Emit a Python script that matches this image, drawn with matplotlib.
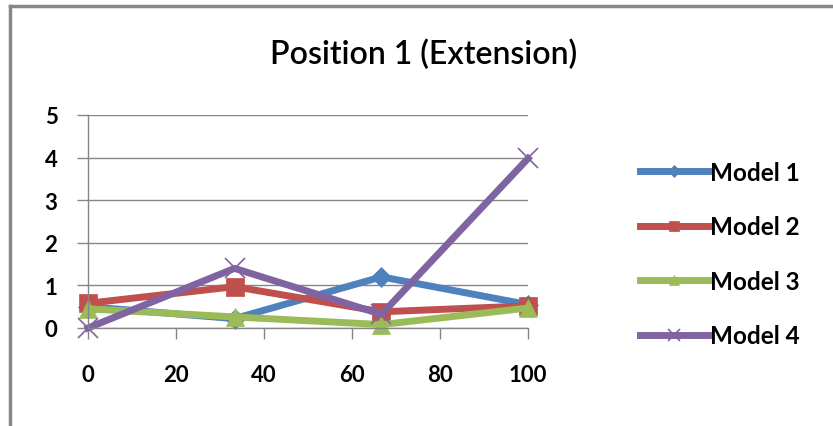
import matplotlib
matplotlib.use("Agg")
import matplotlib.pyplot as plt
from matplotlib.lines import Line2D

# positions along the extension (%)
x = [0, 33.3, 66.7, 100]

model1 = [0.5, 0.22, 1.2, 0.55]
model2 = [0.58, 0.97, 0.38, 0.52]
model3 = [0.45, 0.26, 0.08, 0.47]
model4 = [0.0, 1.4, 0.32, 3.98]

labels = ["Model 1", "Model 2", "Model 3", "Model 4"]
colors = ["#4F81BD", "#C0504D", "#9BBB59", "#8064A2"]
markers = ["D", "s", "^", "x"]
msizes = [10, 13, 13, 15]

plt.rcParams['font.family'] = ['Lato', 'DejaVu Sans']

fig = plt.figure(figsize=(8.33, 4.27), dpi=100)
ax = fig.add_axes([88 / 833, 98 / 427, 440 / 833, 213 / 427])

for ys, lab, c, m, ms in zip([model1, model2, model3, model4], labels, colors, markers, msizes):
    ax.plot(x, ys, color=c, lw=5, marker=m, markersize=ms, label=lab,
            markeredgewidth=1.2 if m == "x" else 0.5, markeredgecolor=c,
            solid_joinstyle="round", clip_on=False)

ax.set_xlim(0, 100)
ax.set_ylim(0, 5)
ax.set_xticks(range(0, 101, 20))
ax.set_yticks(range(0, 6))
ax.grid(axis="y", color="#868686", lw=1)
ax.set_axisbelow(True)
for s in ["top", "right"]:
    ax.spines[s].set_visible(False)
for s in ["left", "bottom"]:
    ax.spines[s].set_color("#868686")
    ax.spines[s].set_linewidth(1)
ax.tick_params(axis="both", color="#868686", length=8, width=1, labelsize=16)
ax.tick_params(axis="x", pad=18)
ax.tick_params(axis="y", pad=14)
for t in ax.get_xticklabels() + ax.get_yticklabels():
    t.set_fontweight("bold")

fig.text(0.5 + 7 / 833, 1 - 55 / 427, "Position 1 (Extension)", ha="center", va="center",
         fontsize=23, fontweight="semibold", transform=fig.transFigure)

leg = ax.legend(loc="center left", bbox_to_anchor=(618 / 833, 1 - 255 / 427),
                bbox_transform=fig.transFigure, frameon=False, fontsize=17.5,
                handlelength=2.8, handletextpad=0.1, labelspacing=1.3,
                markerscale=0.6)
for t in leg.get_texts():
    t.set_fontweight("bold")

# outer chart frame (top and left edges)
fig.add_artist(Line2D([9.5 / 833, 1], [1 - 6.5 / 427, 1 - 6.5 / 427],
                      transform=fig.transFigure, color="#878787", lw=2.5))
fig.add_artist(Line2D([9.5 / 833, 9.5 / 833], [0, 1 - 6.5 / 427],
                      transform=fig.transFigure, color="#878787", lw=2.5))

fig.savefig("out.png", dpi=100)
